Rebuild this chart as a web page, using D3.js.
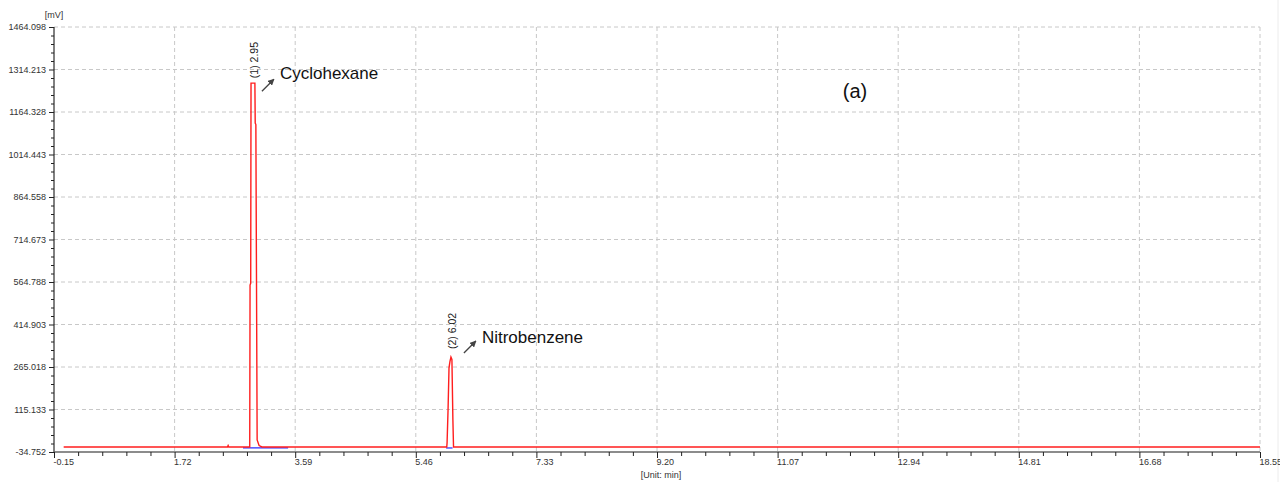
<!DOCTYPE html>
<html>
<head>
<meta charset="utf-8">
<script src="https://cdn.jsdelivr.net/npm/d3@7"></script>
<style>
  body { margin: 0; background: #fff; }
  svg { display: block; font-family: "Liberation Sans", Arial, sans-serif; }
  .tick text { fill: #333; font-size: 9px; }
</style>
</head>
<body>
<div id="ui"></div>
<script>
// chromatogram: retention time (min) vs signal (mV)
var xTicks = [-0.15, 1.72, 3.59, 5.46, 7.33, 9.20, 11.07, 12.94, 14.81, 16.68, 18.55];
var yTicks = [-34.752, 115.133, 265.018, 414.903, 564.788, 714.673, 864.558, 1014.443, 1164.328, 1314.213, 1464.098];

var times  = [0, 2.54, 2.55, 2.56, 2.885, 2.89, 2.9, 2.905, 2.965, 2.97, 2.98, 3.0, 3.03, 3.075,
              5.94, 5.945, 5.96, 5.975, 5.99, 6.005, 6.02, 6.035, 6.045, 18.55];
var signal = [-17, -17, -12, -17, -17, 554, 560, 1266, 1266, 1125, 1120, 8, -12, -17,
              -17, -2, 113, 262, 285, 300, 292, 80, -17, -17];

// integration baselines (start, end) in min
var baseStart = [2.78, 5.93];
var baseEnd   = [3.48, 6.03];

var peakNames = ["Cyclohexane", "Nitrobenzene"];
var peakTimes = [2.95, 6.02];
var peakTops  = [1266, 300];

var w = 1280, h = 482;
var padL = 54, padR = 1260, padT = 27, padB = 452;
var baseVal = -17;

var x = d3.scaleLinear().domain([-0.15, 18.55]).range([padL, padR]);
var y = d3.scaleLinear().domain([-34.752, 1464.098]).range([padB, padT]);

var svg = d3.select("#ui").append("svg")
            .attr("width", w)
            .attr("height", h);

// faint frame line at far right
svg.append("line")
   .attr("x1", 1278).attr("x2", 1278).attr("y1", 0).attr("y2", h)
   .style("stroke", "#ececec");

// grid
svg.append("g").selectAll("line").data(yTicks.slice(1)).enter().append("line")
   .attr("x1", padL).attr("x2", padR)
   .attr("y1", d => y(d)).attr("y2", d => y(d))
   .style("stroke", "#c8c8c8").style("stroke-dasharray", "4,3");

svg.append("g").selectAll("line").data(xTicks.slice(1)).enter().append("line")
   .attr("x1", d => x(d)).attr("x2", d => x(d))
   .attr("y1", padT).attr("y2", padB)
   .style("stroke", "#c8c8c8").style("stroke-dasharray", "4,3");

// minor ticks: 5 subdivisions between majors
function minors(ticks) {
    var out = [];
    for (var i = 0; i < ticks.length - 1; i++) {
        for (var k = 1; k < 5; k++) out.push(ticks[i] + (ticks[i+1] - ticks[i]) * k / 5);
    }
    return out;
}

var yAxis = d3.axisLeft(y).tickValues(yTicks).tickFormat(d3.format(".3f"))
              .tickSize(5).tickPadding(3);
var yMinor = d3.axisLeft(y).tickValues(minors(yTicks)).tickFormat("").tickSize(3);

var gy = svg.append("g").attr("transform", "translate(" + padL + ",0)").call(yAxis);
svg.append("g").attr("transform", "translate(" + padL + ",0)").call(yMinor)
   .select(".domain").remove();
gy.select(".domain").attr("d", "M0," + padT + "V" + padB);

var xAxis = d3.axisBottom(x).tickValues(xTicks).tickFormat(d3.format(".2f"))
              .tickSize(6).tickPadding(1);
var xMinor = d3.axisBottom(x).tickValues(minors(xTicks)).tickFormat("").tickSize(4);

var gx = svg.append("g").attr("transform", "translate(0," + padB + ")").call(xAxis);
svg.append("g").attr("transform", "translate(0," + padB + ")").call(xMinor)
   .select(".domain").remove();
gx.select(".domain").attr("d", "M" + padL + ",0H" + padR)
   .style("stroke", "#666").style("stroke-width", 1.5);
gx.selectAll("text").attr("text-anchor", "start").attr("dx", -1);

svg.selectAll(".tick line").style("stroke", "#222");
// the axis tick labels use a hyphen, not a unicode minus
svg.selectAll(".tick text").text(function () { return this.textContent.replace("\u2212", "-"); });

// units
svg.append("text").attr("x", padL).attr("y", 18).attr("text-anchor", "middle")
   .style("font-size", "9px").style("fill", "#333").text("[mV]");
svg.append("text").attr("x", (padL + padR) / 2 + 4).attr("y", 478).attr("text-anchor", "middle")
   .style("font-size", "9px").style("fill", "#333").text("[Unit: min]");

// integration baselines
svg.append("g").selectAll("line").data(baseStart).enter().append("line")
   .attr("x1", d => x(d)).attr("x2", (d, i) => x(baseEnd[i]))
   .attr("y1", y(baseVal) + 1).attr("y2", y(baseVal) + 1)
   .style("stroke", "#2a2aff").style("stroke-width", 1.2);

// trace
var line = d3.line().x((d, i) => x(times[i])).y(d => y(d));
svg.append("path").datum(signal)
   .attr("d", line)
   .style("fill", "none").style("stroke", "#ff1e1e").style("stroke-width", 1.4);

// peak labels
svg.append("defs").append("marker")
   .attr("id", "arr").attr("viewBox", "0 0 10 10")
   .attr("refX", 9).attr("refY", 5)
   .attr("markerWidth", 5).attr("markerHeight", 5)
   .attr("orient", "auto")
   .append("path").attr("d", "M0,0L10,5L0,10z").style("fill", "#444");

peakTimes.forEach(function (t, i) {
    var px = x(t), py = y(peakTops[i]);
    var off = i === 0 ? 5 : 8;
    svg.append("text")
       .attr("transform", "translate(" + (px + 4) + "," + (py - off) + ")rotate(-90)")
       .style("font-size", "10.5px").style("fill", "#222")
       .text("(" + (i + 1) + ") " + d3.format(".2f")(t));

    var ax = i === 0 ? px + 8 : px + 12;
    var ay = i === 0 ? py + 8 : py - 4;
    svg.append("line")
       .attr("x1", ax).attr("y1", ay).attr("x2", ax + 12).attr("y2", ay - 12)
       .style("stroke", "#444").style("stroke-width", 1.3)
       .attr("marker-end", "url(#arr)");

    svg.append("text")
       .attr("x", ax + 18).attr("y", ay - (i === 0 ? 12 : 10))
       .style("font-size", "17px").style("fill", "#111")
       .text(peakNames[i]);
});

svg.append("text").attr("x", 855).attr("y", 98).attr("text-anchor", "middle")
   .style("font-size", "20px").style("fill", "#111").text("(a)");
</script>
</body>
</html>
